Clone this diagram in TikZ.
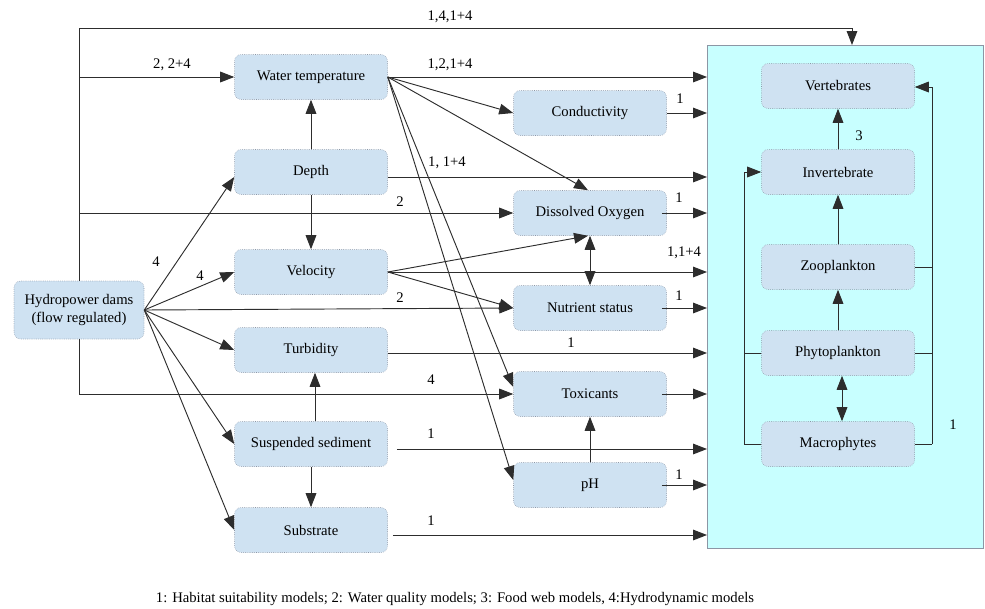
\documentclass[tikz,border=0pt]{standalone}
\usepackage{fontspec}
\setmainfont{Liberation Serif}
\usetikzlibrary{arrows.meta,calc}
\definecolor{boxfill}{RGB}{207,226,242}
\definecolor{boxline}{RGB}{140,150,165}
\definecolor{panelfill}{RGB}{200,255,255}
\definecolor{linec}{RGB}{45,45,45}
\tikzset{
  box/.style={draw=boxline, densely dotted, fill=boxfill, rounded corners=5pt,
    minimum width=114.75pt, minimum height=33.75pt, inner sep=1pt, align=center,
    font=\rmfamily\fontsize{11}{13}\selectfont},
  tip/.style={Triangle[length=10.5pt,width=8pt]},
  conn/.style={draw=linec, line width=0.7pt, -{Triangle[length=10.5pt,width=8pt]}},
  dconn/.style={draw=linec, line width=0.7pt, {Triangle[length=10.5pt,width=8pt]}-{Triangle[length=10.5pt,width=8pt]}},
  plain/.style={draw=linec, line width=0.7pt},
  lbl/.style={font=\rmfamily\fontsize{11}{13}\selectfont, inner sep=0pt}
}
\begin{document}
\begin{tikzpicture}[x=0.75pt,y=-0.75pt]
\useasboundingbox (0,0) rectangle (985,608);
% panel
\node[draw=boxline, fill=panelfill, minimum width=207pt, minimum height=377.25pt, inner sep=0pt, anchor=north west] (panel) at (707,45) {};
% left column
\node[box, minimum width=97.5pt, minimum height=43.5pt] (hyd) at (79,310) {Hydropower dams\\(flow regulated)};
\node[box] (wt) at (311,77) {Water temperature};
\node[box] (dep) at (311,172) {Depth};
\node[box] (vel) at (311,272) {Velocity};
\node[box] (tur) at (311,350) {Turbidity};
\node[box] (sus) at (311,444) {Suspended sediment};
\node[box] (sub) at (311,530) {Substrate};
% middle column
\node[box] (con) at (590,113) {Conductivity};
\node[box] (dox) at (590,213) {Dissolved Oxygen};
\node[box] (nut) at (590,308) {Nutrient status};
\node[box] (tox) at (590,394) {Toxicants};
\node[box] (ph) at (590,485) {pH};
% panel column
\node[box] (ver) at (838,86) {Vertebrates};
\node[box] (inv) at (838,172) {Invertebrate};
\node[box] (zoo) at (838,267) {Zooplankton};
\node[box] (phy) at (838,353) {Phytoplankton};
\node[box] (mac) at (838,444) {Macrophytes};
% coordinates
\coordinate (tl) at (79,28);
\coordinate (tr) at (852,28);
\coordinate (hb) at (79,394);
% hydro connectors
\draw[plain] (hyd.north) -- (tl);
\draw[conn] (tl) -- (tr) -- (tr |- panel.north);
\node[lbl] at (450,17) {1,4,1+4};
\draw[conn] (hyd.north |- wt) -- (wt.west);
\node[lbl] at (172,65) {2, 2+4};
\draw[conn] (hyd.north |- dox) -- (dox.west);
\node[lbl] at (400,202) {2};
\draw[plain] (hyd.south) -- (hb);
\draw[conn] (hb) -- (tox.west);
\node[lbl] at (431,380) {4};
\draw[conn] (hyd.east) -- ($(dep.west)+(0,5)$);
\node[lbl] at (156,262) {4};
\draw[conn] (hyd.east) -- (vel.west);
\node[lbl] at (200,276) {4};
\draw[conn] (hyd.east) -- (nut.west);
\node[lbl] at (400,298) {2};
\draw[conn] (hyd.east) -- (tur.west);
\draw[conn] (hyd.east) -- (sus.west);
\draw[conn] (hyd.east) -- (sub.west);
% left column internal
\draw[conn] (dep) -- (wt);
\draw[conn] (dep) -- (vel);
\draw[conn] ($(sus.north)+(4,0)$) -- ($(tur.south)+(4,0)$);
\draw[conn] (sus) -- (sub);
% water temperature
\draw[conn] (wt.east) -- (wt.east -| panel.west);
\node[lbl] at (450,65) {1,2,1+4};
\draw[conn] (wt.east) -- (con.west);
\draw[conn] (wt.east) -- ($(dox.north)+(-2,0)$);
\draw[conn] (wt.east) -- ($(tox.west)+(0,-7)$);
\draw[conn] (wt.east) -- ($(ph.west)+(0,-5)$);
% depth
\draw[conn] ($(dep.east)+(0,5)$) -- ($(dep.east -| panel.west)+(0,5)$);
\node[lbl] at (447,163) {1, 1+4};
% velocity
\draw[conn] (vel.east) -- ($(dox.south)+(-2,0)$);
\draw[conn] (vel.east) -- (vel.east -| panel.west);
\node[lbl] at (684,253) {1,1+4};
\draw[conn] (vel.east) -- (nut.west);
% turbidity
\draw[conn] ($(tur.east)+(0,3)$) -- ($(tur.east -| panel.west)+(0,3)$);
\node[lbl] at (571,343) {1};
% suspended sediment
\draw[conn] ($(sus.east)+(9,5)$) -- ($(sus.east -| panel.west)+(0,5)$);
\node[lbl] at (431,434) {1};
% substrate
\draw[conn] ($(sub.east)+(5,5)$) -- ($(sub.east -| panel.west)+(0,5)$);
\node[lbl] at (431,521) {1};
% middle column outputs
\draw[conn] (con.east) -- (con.east -| panel.west);
\node[lbl] at (680,99) {1};
\draw[conn] ($(dox.east)+(-5,0)$) -- (dox.east -| panel.west);
\node[lbl] at (679,198) {1};
\draw[conn] ($(nut.east)+(-5,0)$) -- (nut.east -| panel.west);
\node[lbl] at (679,296) {1};
\draw[conn] ($(tox.east)+(-5,0)$) -- (tox.east -| panel.west);
\draw[conn] ($(ph.east)+(-5,0)$) -- (ph.east -| panel.west);
\node[lbl] at (679,475) {1};
\draw[dconn] (nut) -- (dox);
\draw[conn] (ph) -- (tox);
% panel internal
\draw[conn] (inv) -- (ver);
\node[lbl] at (859,136) {3};
\draw[conn] (zoo) -- (inv);
\draw[conn] (phy) -- (zoo);
\draw[dconn] ($(phy.south)+(4,0)$) -- ($(mac.north)+(4,0)$);
\coordinate (lx) at (744,444);
\coordinate (ly) at (744,172);
\draw[plain] (mac.west) -- (lx);
\draw[plain] (phy.west) -- (phy.west -| lx);
\draw[conn] (lx) -- (ly) -- (inv.west);
\coordinate (rx) at (932,444);
\coordinate (ry) at (932,87);
\draw[plain] (mac.east) -- (rx);
\draw[plain] (phy.east) -- (phy.east -| rx);
\draw[plain] (zoo.east) -- (zoo.east -| rx);
\draw[conn] (rx) -- (ry) -- ($(ver.east)+(0,1)$);
\node[lbl] at (953,425) {1};
% legend
\node[lbl] (leg) at (455,599) {1: Habitat suitability models; 2: Water quality models; 3: Food web models, 4:Hydrodynamic models};
\end{tikzpicture}
\end{document}
